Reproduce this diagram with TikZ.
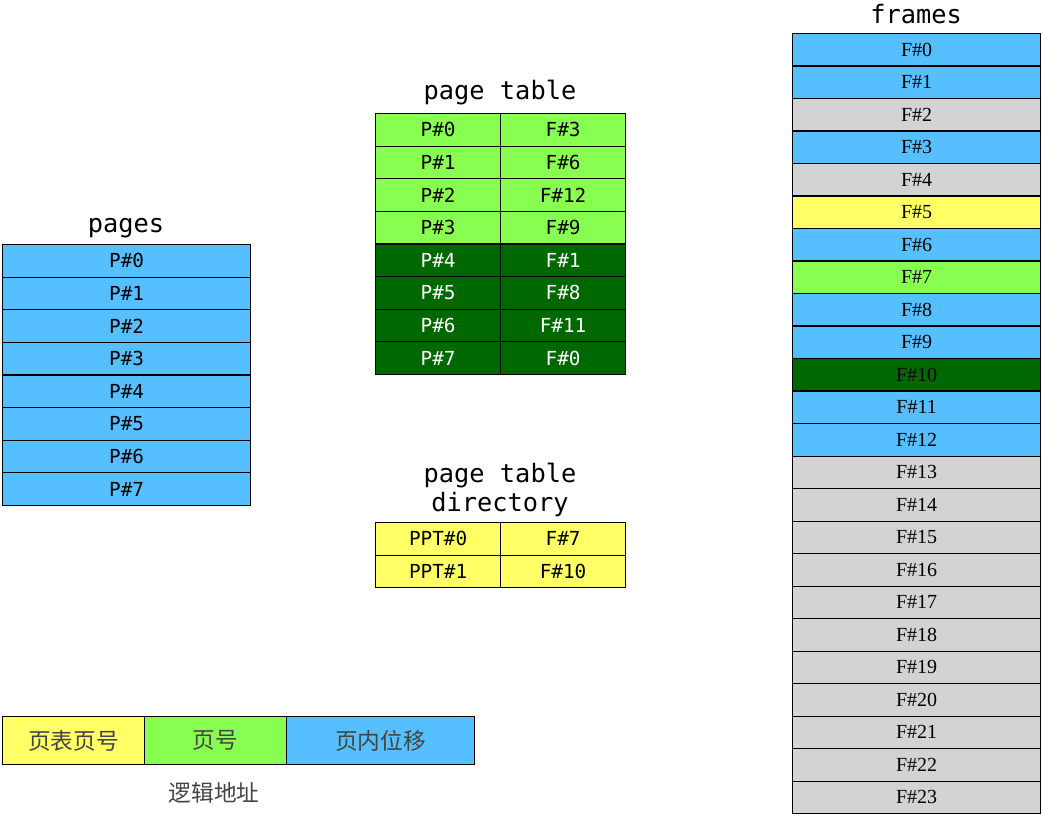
\documentclass[tikz,border=0pt]{standalone}
\usepackage{fontspec}
\setmonofont{DejaVu Sans Mono}
\setmainfont{Liberation Serif}
\newfontfamily\cjk{Noto Sans CJK SC}
\definecolor{cblue}{RGB}{85,191,255}
\definecolor{clgreen}{RGB}{136,255,80}
\definecolor{cdgreen}{RGB}{0,104,0}
\definecolor{cyellow}{RGB}{255,255,102}
\definecolor{cgray}{RGB}{211,211,211}
\definecolor{ctext}{RGB}{68,68,68}
\begin{document}
\begin{tikzpicture}[x=0.75pt,y=-0.75pt,
  cell/.style={draw=black,line width=0.9pt,minimum height=24.4pt,inner sep=0pt,anchor=north west},
  monocell/.style={cell,font=\ttfamily\fontsize{14.5}{16}\selectfont},
  framecell/.style={cell,minimum width=186pt,font=\fontsize{15}{17}\selectfont},
  cjkcell/.style={cell,minimum height=36pt,font=\cjk\fontsize{17}{19}\selectfont,text=ctext},
  titl/.style={font=\ttfamily\fontsize{19}{22}\selectfont,align=center,inner sep=0pt}]
\useasboundingbox (0,0) rectangle (1042,816);
% pages
\node[titl] (tpages) at (126,228) {pages};
\foreach \i in {0,...,7}{
  \node[monocell,fill=cblue,minimum width=186pt] (p\i) at (2,{244+\i*32.6}) {P\#\i};
}
% page table
\node[titl] (tpt) at (500,93) {page table};
\foreach \i/\f/\c/\t in {0/3/clgreen/black,1/6/clgreen/black,2/12/clgreen/black,3/9/clgreen/black,4/1/cdgreen/white,5/8/cdgreen/white,6/11/cdgreen/white,7/0/cdgreen/white}{
  \node[monocell,fill=\c,text=\t,minimum width=93.75pt] (ptp\i) at (375,{113+\i*32.6}) {P\#\i};
  \node[monocell,fill=\c,text=\t,minimum width=93.75pt] (ptf\i) at (500,{113+\i*32.6}) {F\#\f};
}
% directory
\node[titl] (tdir) at (500,490) {page table\\[0pt]directory};
\foreach \i/\f in {0/7,1/10}{
  \node[monocell,fill=cyellow,minimum width=93.75pt] (dp\i) at (375,{522+\i*32.6}) {PPT\#\i};
  \node[monocell,fill=cyellow,minimum width=93.75pt] (df\i) at (500,{522+\i*32.6}) {F\#\f};
}
% frames
\node[titl] (tfr) at (916,14) {frames};
\foreach \i/\c in {0/cblue,1/cblue,2/cgray,3/cblue,4/cgray,5/cyellow,6/cblue,7/clgreen,8/cblue,9/cblue,10/cdgreen,11/cblue,12/cblue,13/cgray,14/cgray,15/cgray,16/cgray,17/cgray,18/cgray,19/cgray,20/cgray,21/cgray,22/cgray,23/cgray}{
  \node[framecell,fill=\c] (f\i) at (792,{33+\i*32.5}) {F\#\i};
}
% logical address
\node[cjkcell,fill=cyellow,minimum width=106.5pt] (la1) at (2,716) {页表页号};
\node[cjkcell,fill=clgreen,minimum width=106.5pt] (la2) at (144,716) {页号};
\node[cjkcell,fill=cblue,minimum width=141pt] (la3) at (286,716) {页内位移};
\node[font=\cjk\fontsize{17}{19}\selectfont,text=ctext] (lal) at (214,793) {逻辑地址};
\end{tikzpicture}
\end{document}
